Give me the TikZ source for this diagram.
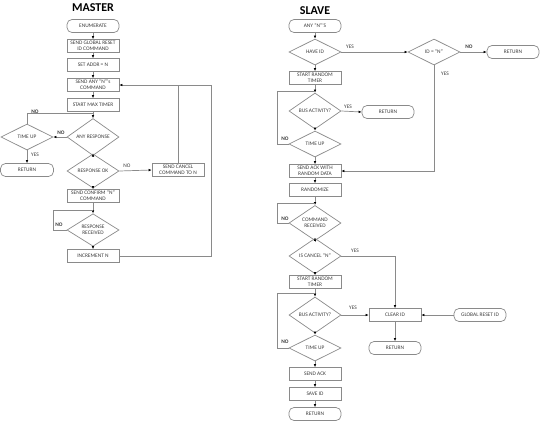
\documentclass[tikz,border=0pt]{standalone}
\usepackage{fontspec}
\setmainfont{Carlito}
\usetikzlibrary{shapes.geometric,arrows.meta}
\definecolor{ln}{HTML}{8A8A8A}
\definecolor{tx}{HTML}{3A3A3A}
\tikzset{
  base/.style={draw=ln,line width=0.7pt,inner sep=0pt,align=center,text=tx,font=\fontsize{5.4}{6}\selectfont},
  box/.style={base,rectangle,minimum width=52pt,minimum height=13pt},
  term/.style={box,rounded corners=5pt},
  dia/.style={base,diamond,minimum width=52pt,minimum height=26pt},
  conn/.style={draw=ln,line width=0.7pt},
  arr/.style={conn,-{Latex[length=3pt,width=2.6pt,color=black]}},
  lbl/.style={text=tx,inner sep=0pt,font=\fontsize{5.4}{6}\selectfont},
  blbl/.style={lbl,font=\fontsize{5.4}{6}\selectfont\bfseries},
  ttl/.style={text=black,inner sep=0pt,font=\fontsize{12}{14}\selectfont\bfseries}
}
\begin{document}
\begin{tikzpicture}[x=1pt,y=-1pt]
\useasboundingbox (0,0) rectangle (540,421);
% ---------------- MASTER ----------------
\node[ttl] (mt) at (93,8) {MASTER};
\node[term] (enum) at (93,26) {ENUMERATE};
\node[box] (gr) at (93,46) {SEND GLOBAL RESET\\ID COMMAND};
\node[box] (addr) at (93,65) {SET ADDR = N};
\node[box] (any) at (93,85) {SEND ANY “N”’s\\COMMAND};
\node[box] (tmr) at (93,105) {START MAX TIMER};
\node[dia] (resp) at (93,137) {ANY RESPONSE};
\node[dia] (tup) at (27,137) {TIME UP};
\node[term,minimum width=53pt] (mret) at (27,170) {RETURN};
\node[dia] (rok) at (93,171) {RESPONSE OK};
\node[box] (cancel) at (178,170) {SEND CANCEL\\COMMAND TO N};
\node[box] (conf) at (93,196) {SEND CONFIRM “N”\\COMMAND};
\node[dia] (rrec) at (93,230) {RESPONSE\\RECEIVED};
\node[box] (inc) at (93,256) {INCREMENT N};
\coordinate (j1) at (93,113);
\coordinate (j2) at (178,85);
\coordinate (j3) at (93,210);
\coordinate (rl) at (211,85);
\draw[arr] (enum) -- (gr);
\draw[arr] (gr) -- (addr);
\draw[arr] (addr) -- (any);
\draw[arr] (any) -- (tmr);
\draw[arr] (tmr) -- (resp);
\draw[conn] (tup.north) |- (j1);
\draw[arr] (resp.west) -- (tup.east);
\draw[arr] (tup.south) -- (mret.north);
\draw[arr] (resp.south) -- (rok.north);
\draw[arr] (rok.east) -- (cancel.west);
\draw[conn] (cancel.north) -- (j2);
\draw[arr] (inc.east) -| (rl) -- (any.east);
\draw[arr] (rok.south) -- (conf.north);
\draw[arr] (conf.south) -- (rrec.north);
\draw[conn] (rrec.west) -- ++(-13,0) |- (j3);
\draw[arr] (rrec.south) -- (inc.north);
\node[blbl] (l1) at (35,112) {NO};
\node[blbl] (l2) at (61,133) {NO};
\node[lbl] (l3) at (35,155) {YES};
\node[lbl] (l4) at (127,166) {NO};
\node[blbl] (l5) at (59,225) {NO};
% ---------------- SLAVE ----------------
\node[ttl] (st) at (315,11) {SLAVE};
\node[term] (sany) at (315,26) {ANY “N”’S};
\node[dia] (hid) at (315,52) {HAVE ID};
\node[dia] (idn) at (434,52) {ID = “N”};
\node[term] (ret1) at (513,52) {RETURN};
\node[box] (srt1) at (315,78) {START RANDOM\\TIMER};
\node[dia] (bus1) at (315,111) {BUS ACTIVITY?};
\node[term] (ret2) at (388,112) {RETURN};
\node[dia] (tu1) at (315,144) {TIME UP};
\node[box] (ack1) at (315,171) {SEND ACK WITH\\RANDOM DATA};
\node[box] (rnd) at (315,190) {RANDOMIZE};
\node[dia] (cmd) at (315,223) {COMMAND\\RECEIVED};
\node[dia] (canc) at (315,256) {IS CANCEL “N”};
\node[box] (srt2) at (315,282) {START RANDOM\\TIMER};
\node[dia] (bus2) at (315,315) {BUS ACTIVITY?};
\node[dia] (tu2) at (315,348) {TIME UP};
\node[box] (clr) at (395,315) {CLEAR ID};
\node[term] (grst) at (480,315) {GLOBAL RESET ID};
\node[term] (ret3) at (395,348) {RETURN};
\node[box] (sack) at (315,374) {SEND ACK};
\node[box] (save) at (315,394) {SAVE ID};
\node[term] (ret4) at (315,414) {RETURN};
\coordinate (k1) at (315,91);
\coordinate (k2) at (315,203);
\coordinate (k3) at (315,293);
\draw[arr] (sany) -- (hid);
\draw[arr] (hid.east) -- (idn.west);
\draw[arr] (idn.east) -- (ret1.west);
\draw[arr] (hid.south) -- (srt1.north);
\draw[arr] (srt1.south) -- (bus1.north);
\draw[conn] (tu1.west) -- (277,144) |- (k1);
\draw[arr] (bus1.east) -- (ret2.west);
\draw[arr] (bus1.south) -- (tu1.north);
\draw[arr] (tu1.south) -- (ack1.north);
\draw[arr] (idn.south) |- (ack1.east);
\draw[arr] (ack1) -- (rnd);
\draw[arr] (rnd.south) -- (cmd.north);
\draw[conn] (cmd.west) -- (277,223) |- (k2);
\draw[arr] (cmd.south) -- (canc.north);
\draw[arr] (canc.east) -| (clr.north);
\draw[arr] (canc.south) -- (srt2.north);
\draw[arr] (srt2.south) -- (bus2.north);
\draw[conn] (tu2.west) -- (277,348) |- (k3);
\draw[arr] (bus2.east) -- (clr.west);
\draw[arr] (grst.west) -- (clr.east);
\draw[arr] (clr.south) -- (ret3.north);
\draw[arr] (bus2.south) -- (tu2.north);
\draw[arr] (tu2.south) -- (sack.north);
\draw[arr] (sack) -- (save);
\draw[arr] (save) -- (ret4);
\node[lbl] (s1) at (350,47) {YES};
\node[blbl] (s2) at (469,47) {NO};
\node[lbl] (s3) at (445,74) {YES};
\node[lbl] (s4) at (348,107) {YES};
\node[blbl] (s5) at (285,139) {NO};
\node[blbl] (s6) at (285,219) {NO};
\node[lbl] (s7) at (355,251) {YES};
\node[lbl] (s8) at (353,308) {YES};
\node[blbl] (s9) at (285,342) {NO};
\end{tikzpicture}
\end{document}
